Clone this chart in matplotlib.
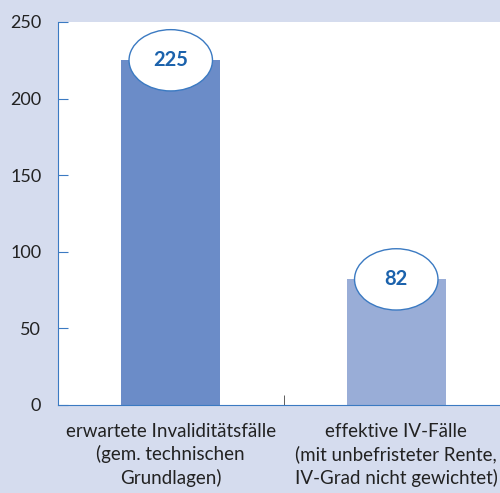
import matplotlib
matplotlib.use("Agg")
from matplotlib import pyplot as plt
from matplotlib.patches import Ellipse

categories = ["erwartete Invaliditätsfälle\n(gem. technischen\nGrundlagen)",
              "effektive IV-Fälle\n(mit unbefristeter Rente,\nIV-Grad nicht gewichtet)"]
values = [225, 82]
bar_colors = ["#6b8cc8", "#99add7"]
yticks = [0, 50, 100, 150, 200, 250]

bg = "#d5dcee"
blue = "#3b7ac2"
label_blue = "#1b62ac"

plt.rcParams['font.family'] = ['Lato', 'DejaVu Sans']

fig = plt.figure(figsize=(5.0, 4.93), dpi=100, facecolor=bg)
ax = fig.add_axes([0.116, 0.1785, 0.884, 0.7769])
ax.set_facecolor("white")

x = list(range(len(values)))
ax.bar(x, values, width=0.44, color=bar_colors, zorder=2)

ax.set_xlim(-0.5, 1.46)
ax.set_ylim(0, 250)

# value bubbles
for xi, v in zip(x, values):
    e = Ellipse((xi, v), width=0.37, height=40, facecolor="white",
                edgecolor=blue, linewidth=1.0, zorder=3)
    ax.add_patch(e)
    ax.text(xi, v, str(v), ha="center", va="center", color=label_blue,
            fontsize=14.5, fontweight="bold", zorder=4)

for s in ["top", "right"]:
    ax.spines[s].set_visible(False)
ax.spines["left"].set_color(blue)
ax.spines["bottom"].set_color(blue)

ax.set_yticks(yticks)
ax.tick_params(axis="y", direction="in", length=7.5, color=blue, pad=12,
               labelsize=13, labelcolor="#222222")

ax.set_xticks(x)
ax.set_xticklabels(categories, fontsize=13.5, color="#222222", linespacing=1.35)
ax.tick_params(axis="x", length=0, pad=13)
ax.set_xticks([0.5], minor=True)
ax.tick_params(axis="x", which="minor", direction="in", length=7.5, color="#444444")

fig.savefig("out.png", dpi=100, facecolor=bg)
